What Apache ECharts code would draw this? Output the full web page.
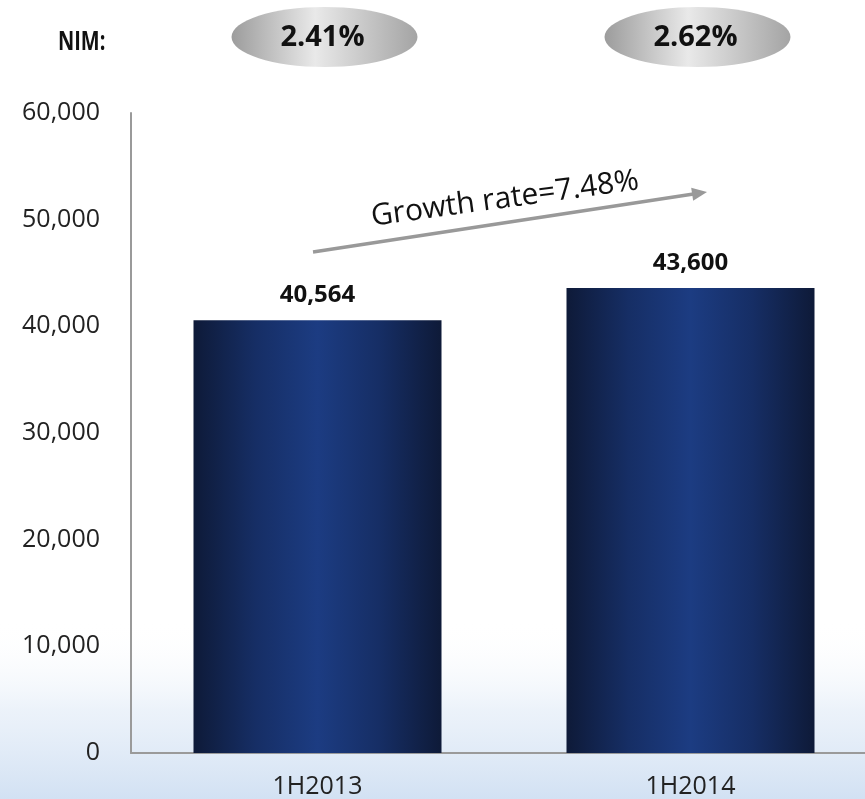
<!DOCTYPE html>
<html>
<head>
<meta charset="utf-8">
<script src="https://cdn.jsdelivr.net/npm/echarts@6/dist/echarts.min.js"></script>
<style>
  html, body { margin: 0; padding: 0; background: #ffffff; }
  #chart { width: 865px; height: 799px; }
</style>
</head>
<body>
<div id="chart"></div>
<script>
// Net interest income by half-year
const categories = ['1H2013', '1H2014'];
const incomeValues = [40564, 43600];
const nimLabels = ['2.41%', '2.62%'];
const growthLabel = 'Growth rate=7.48%';
const yTicks = { min: 0, max: 60000, interval: 10000 };

const chart = echarts.init(document.getElementById('chart'));

const barFill = new echarts.graphic.LinearGradient(0, 0, 1, 0, [
  { offset: 0, color: '#0e1a38' },
  { offset: 0.25, color: '#162e65' },
  { offset: 0.5, color: '#1c3c82' },
  { offset: 0.75, color: '#162e65' },
  { offset: 1, color: '#0e1a38' }
]);

const pillFill = new echarts.graphic.LinearGradient(0, 0, 1, 0, [
  { offset: 0, color: '#9c9c9c' },
  { offset: 0.45, color: '#e9e9e9' },
  { offset: 1, color: '#a4a4a4' }
]);

const option = {
  backgroundColor: '#ffffff',
  animation: false,
  grid: { left: 131, top: 113, width: 746, height: 640, outerBoundsMode: 'none', containLabel: false },
  xAxis: {
    type: 'category',
    data: categories,
    axisLine: { lineStyle: { color: '#9a9a9a', width: 2 } },
    axisTick: { show: false },
    axisLabel: { color: '#222', fontSize: 25, fontFamily: 'Open Sans', margin: 21 }
  },
  yAxis: {
    type: 'value',
    min: yTicks.min,
    max: yTicks.max,
    interval: yTicks.interval,
    axisLine: { show: true, lineStyle: { color: '#9a9a9a', width: 2 } },
    axisTick: { show: false },
    splitLine: { show: false },
    axisLabel: {
      color: '#222', fontSize: 25, fontFamily: 'Open Sans', margin: 31,
      formatter: v => v.toLocaleString('en-US')
    }
  },
  series: [{
    type: 'bar',
    data: incomeValues,
    barWidth: 248,
    itemStyle: { color: barFill },
    label: {
      show: true,
      position: 'top',
      distance: 13,
      color: '#111',
      fontSize: 24,
      fontWeight: 'bold',
      fontFamily: 'Open Sans',
      formatter: p => p.value.toLocaleString('en-US')
    }
  }]
};

chart.setOption(option);

// Annotations: NIM pills above each bar, growth arrow between bars
function buildGraphics() {
  const g = [];
  // soft blue haze along the bottom
  g.push({
    type: 'rect', z: -10, silent: true,
    shape: { x: 0, y: 620, width: 865, height: 179 },
    style: {
      fill: new echarts.graphic.LinearGradient(0, 0, 0, 1, [
        { offset: 0, color: 'rgba(255,255,255,0)' },
        { offset: 0.5, color: 'rgba(228,237,248,0.7)' },
        { offset: 1, color: 'rgba(210,225,243,1)' }
      ])
    }
  });
  g.push({
    type: 'text', x: 58, y: 42, scaleX: 0.74,
    style: { text: 'NIM:', fontSize: 27, fontWeight: 'bold', fontFamily: 'Open Sans', fill: '#111', verticalAlign: 'middle' }
  });
  categories.forEach((c, i) => {
    const px = chart.convertToPixel({ xAxisIndex: 0 }, c) + 7;
    g.push({
      type: 'ellipse',
      shape: { cx: px, cy: 37, rx: 93, ry: 30 },
      style: { fill: pillFill }
    });
    g.push({
      type: 'text', x: px - 2, y: 38,
      style: { text: nimLabels[i], fontSize: 29, fontWeight: 'bold', fontFamily: 'Open Sans', fill: '#111', align: 'center', verticalAlign: 'middle' }
    });
  });
  // growth arrow
  const x1 = 313, y1 = 252, x2 = 707, y2 = 192;
  const ang = Math.atan2(y2 - y1, x2 - x1);
  g.push({
    type: 'line',
    shape: { x1: x1, y1: y1, x2: x2 - 12 * Math.cos(ang), y2: y2 - 12 * Math.sin(ang) },
    style: { stroke: '#999999', lineWidth: 3.5 }
  });
  const hl = 15, hw = 6.5;
  const bx = x2 - hl * Math.cos(ang), by = y2 - hl * Math.sin(ang);
  g.push({
    type: 'polygon',
    shape: { points: [
      [x2, y2],
      [bx + hw * Math.sin(ang), by - hw * Math.cos(ang)],
      [bx - hw * Math.sin(ang), by + hw * Math.cos(ang)]
    ] },
    style: { fill: '#999999' }
  });
  g.push({
    type: 'text', x: 505, y: 199, rotation: -ang * 0.9,
    style: { text: growthLabel, fontSize: 30, fontFamily: 'Open Sans', fill: '#111', align: 'center', verticalAlign: 'middle' }
  });
  return g;
}

chart.setOption({ graphic: buildGraphics() });
</script>
</body>
</html>
